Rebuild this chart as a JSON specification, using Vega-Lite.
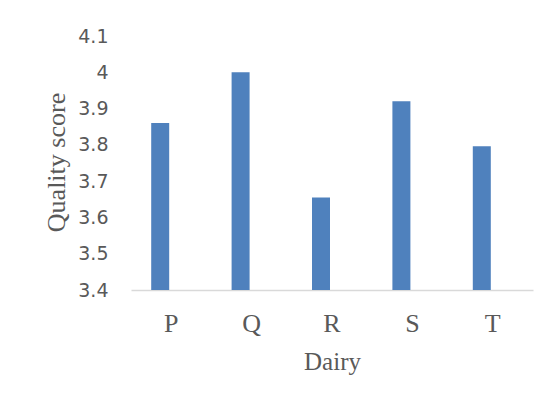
{
  "$schema": "https://vega.github.io/schema/vega-lite/v6.json",
  "autosize": "none",
  "width": 402,
  "height": 254,
  "padding": {"left": 131, "top": 36, "right": 25, "bottom": 116},
  "background": "white",
  "config": {"view": {"stroke": null}},
  "data": {"values": [
    {"Dairy": "P", "score": 3.86},
    {"Dairy": "Q", "score": 4.0},
    {"Dairy": "R", "score": 3.655},
    {"Dairy": "S", "score": 3.92},
    {"Dairy": "T", "score": 3.796}
  ]},
  "mark": {"type": "bar", "color": "#4f81bd", "width": 18, "xOffset": -11, "clip": true},
  "encoding": {
    "x": {
      "field": "Dairy", "type": "nominal", "sort": null,
      "scale": {"paddingInner": 0, "paddingOuter": 0},
      "axis": {
        "title": "Dairy", "labelAngle": 0, "ticks": false, "tickSize": 0,
        "domainColor": "#d9d9d9", "domainWidth": 1.5,
        "labelFont": "Liberation Serif", "labelFontSize": 26, "labelColor": "#595959",
        "labelBaseline": "alphabetic", "labelPadding": 41,
        "titleFont": "Liberation Serif", "titleFontSize": 25, "titleFontWeight": "normal", "titleColor": "#595959",
        "titleBaseline": "alphabetic", "titleY": 79
      }
    },
    "y": {
      "field": "score", "type": "quantitative",
      "scale": {"domain": [3.4, 4.1], "nice": false, "zero": false},
      "axis": {
        "title": "Quality score", "values": [3.4, 3.5, 3.6, 3.7, 3.8, 3.9, 4.0, 4.1], "format": "~g",
        "grid": false, "domain": false, "ticks": false, "tickSize": 0,
        "labelFont": "DejaVu Sans", "labelFontSize": 19, "labelColor": "#595959", "labelPadding": 23,
        "titleFont": "Liberation Serif", "titleFontSize": 26, "titleFontWeight": "normal", "titleColor": "#595959",
        "titleAngle": -90, "titleBaseline": "alphabetic", "titleAlign": "center", "titleX": -67, "titleY": 126
      }
    }
  }
}
